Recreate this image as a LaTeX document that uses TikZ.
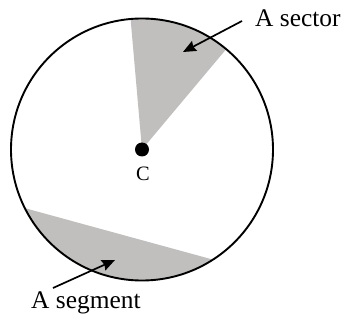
\documentclass[tikz,border=0pt]{standalone}
\usepackage{fontspec}
\setmainfont{Liberation Serif}
\usetikzlibrary{arrows.meta,calc}
\definecolor{shade}{RGB}{192,191,189}
\tikzset{
  region/.style={fill=shade,draw=none},
  rim/.style={draw=black,line width=1.9bp},
  pointer/.style={draw=black,line width=1.7bp,-{Stealth[length=13bp,width=11bp,inset=1.5bp]}},
  lbl/.style={inner sep=0pt,font=\fontsize{25.5}{30}\selectfont},
  clbl/.style={inner sep=0pt,font=\fontsize{20.5}{24}\selectfont}
}
\begin{document}
\begin{tikzpicture}[x=1bp,y=1bp]
\useasboundingbox (0,0) rectangle (347,323);
\coordinate (O) at (142,173.5);
% sector
\fill[region] (O) -- ($(O)+(50:131)$) arc[start angle=50,end angle=95,radius=131] -- cycle;
% segment
\fill[region] ($(O)+(206.6:131)$) arc[start angle=206.6,end angle=302.8,radius=131] -- cycle;
% circle
\draw[rim] (O) circle[radius=131];
% centre dot
\fill (O) circle[radius=7];
\node[clbl] (C) at (143,149) {C};
% labels
\node[lbl,anchor=base west] (sec) at (255,297) {A sector};
\node[lbl,anchor=base west] (seg) at (31,15) {A segment};
\coordinate (secstart) at (242,302);
\coordinate (sectip) at (183,271);
\coordinate (segstart) at (53,35);
\coordinate (segtip) at (115,63);
\draw[pointer] (secstart) -- (sectip);
\draw[pointer] (segstart) -- (segtip);
\end{tikzpicture}
\end{document}
